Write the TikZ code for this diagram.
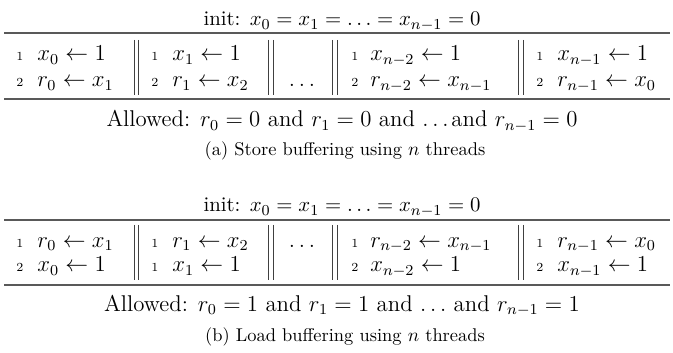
\documentclass[tikz,border=0pt]{standalone}
\begin{document}
\begin{tikzpicture}[x=0.5263pt,y=-0.5263pt]
\tikzset{
  maintext/.style={font=\fontsize{12}{14}\selectfont, inner sep=0pt, anchor=base},
  inittext/.style={font=\fontsize{10.95}{13}\selectfont, inner sep=0pt, anchor=base},
  captext/.style={font=\fontsize{9.7}{11}\selectfont, inner sep=0pt, anchor=base},
  instr/.style={font=\fontsize{12}{14}\selectfont, inner sep=0pt, anchor=base west},
  lnum/.style={font=\fontsize{6.5}{7}\selectfont, inner sep=0pt, anchor=base},
  rulex/.style={draw=black!65, line width=0.75pt},
  barx/.style={draw=black!75, line width=0.45pt},
}
\useasboundingbox (0,0) rectangle (673,353);

% ---------------- (a) ----------------
\node[inittext] (inita) at (342,26) {init: $x_0 = x_1 = \ldots = x_{n-1} = 0$};
\coordinate (ra1w) at (4,33); \coordinate (ra1e) at (670,33);
\coordinate (ra2w) at (4,99); \coordinate (ra2e) at (670,99);
\draw[rulex] (ra1w) -- (ra1e);
\draw[rulex] (ra2w) -- (ra2e);
\foreach \bx [count=\i] in {134,268.5,332.5,518.5}{
  \coordinate (ba\i t) at (\bx,40); \coordinate (ba\i b) at (\bx,95);
  \coordinate (bb\i t) at (\bx+4.5,40); \coordinate (bb\i b) at (\bx+4.5,95);
  \draw[barx] (ba\i t) -- (ba\i b);
  \draw[barx] (bb\i t) -- (bb\i b);
}
% thread 0
\node[lnum] (a1n1) at (20,61) {1};
\node[instr] (a1i1) at (37,61) {$x_0 \leftarrow 1$};
\node[lnum] (a1n2) at (20,87) {2};
\node[instr] (a1i2) at (37,87) {$r_0 \leftarrow x_1$};
% thread 1
\node[lnum] (a2n1) at (155,61) {1};
\node[instr] (a2i1) at (172,61) {$x_1 \leftarrow 1$};
\node[lnum] (a2n2) at (155,87) {2};
\node[instr] (a2i2) at (172,87) {$r_1 \leftarrow x_2$};
% dots
\node[maintext] (a3d) at (302,87) {$\ldots$};
% thread n-2
\node[lnum] (a4n1) at (355,61) {1};
\node[instr] (a4i1) at (370,61) {$x_{n-2} \leftarrow 1$};
\node[lnum] (a4n2) at (355,87) {2};
\node[instr] (a4i2) at (370,87) {$r_{n-2} \leftarrow x_{n-1}$};
% thread n-1
\node[lnum] (a5n1) at (540,61) {1};
\node[instr] (a5i1) at (557,61) {$x_{n-1} \leftarrow 1$};
\node[lnum] (a5n2) at (540,87) {2};
\node[instr] (a5i2) at (557,87) {$r_{n-1} \leftarrow x_0$};
\node[maintext] (alla) at (342,127) {Allowed: $r_0 = 0$ and $r_1 = 0$ and $\ldots$\kern1.5pt and $r_{n-1} = 0$};
\node[captext] (capa) at (345,156) {(a) Store buffering using $n$ threads};

% ---------------- (b) ----------------
\node[inittext] (initb) at (342,212) {init: $x_0 = x_1 = \ldots = x_{n-1} = 0$};
\coordinate (rb1w) at (4,220); \coordinate (rb1e) at (670,220);
\coordinate (rb2w) at (4,285); \coordinate (rb2e) at (670,285);
\draw[rulex] (rb1w) -- (rb1e);
\draw[rulex] (rb2w) -- (rb2e);
\foreach \bx [count=\i] in {134,268.5,332.5,518.5}{
  \coordinate (bc\i t) at (\bx,225); \coordinate (bc\i b) at (\bx,280);
  \coordinate (bd\i t) at (\bx+4.5,225); \coordinate (bd\i b) at (\bx+4.5,280);
  \draw[barx] (bc\i t) -- (bc\i b);
  \draw[barx] (bd\i t) -- (bd\i b);
}
\node[lnum] (b1n1) at (20,247) {1};
\node[instr] (b1i1) at (37,247) {$r_0 \leftarrow x_1$};
\node[lnum] (b1n2) at (20,272) {2};
\node[instr] (b1i2) at (37,272) {$x_0 \leftarrow 1$};
\node[lnum] (b2n1) at (155,247) {1};
\node[instr] (b2i1) at (172,247) {$r_1 \leftarrow x_2$};
\node[lnum] (b2n2) at (155,272) {1};
\node[instr] (b2i2) at (172,272) {$x_1 \leftarrow 1$};
\node[maintext] (b3d) at (302,247) {$\ldots$};
\node[lnum] (b4n1) at (355,247) {1};
\node[instr] (b4i1) at (370,247) {$r_{n-2} \leftarrow x_{n-1}$};
\node[lnum] (b4n2) at (355,272) {2};
\node[instr] (b4i2) at (370,272) {$x_{n-2} \leftarrow 1$};
\node[lnum] (b5n1) at (540,247) {1};
\node[instr] (b5i1) at (557,247) {$r_{n-1} \leftarrow x_0$};
\node[lnum] (b5n2) at (540,272) {2};
\node[instr] (b5i2) at (557,272) {$x_{n-1} \leftarrow 1$};
\node[maintext] (allb) at (342,311) {Allowed: $r_0 = 1$ and $r_1 = 1$ and $\ldots$ and $r_{n-1} = 1$};
\node[captext] (capb) at (345,341) {(b) Load buffering using $n$ threads};
\end{tikzpicture}
\end{document}
